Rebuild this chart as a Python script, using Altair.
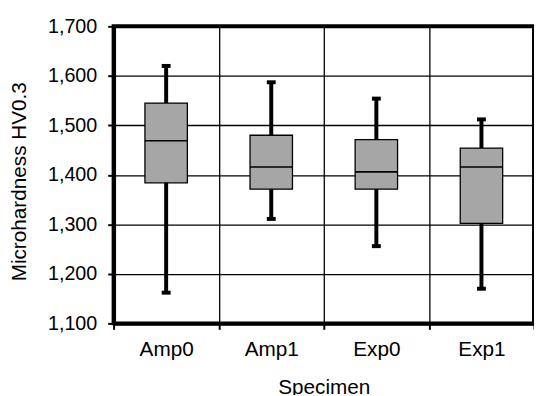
import altair as alt
import pandas as pd

categories = ["Amp0", "Amp1", "Exp0", "Exp1"]
whisker_low = [1162, 1311, 1256, 1170]
q1 = [1384, 1371, 1371, 1302]
median = [1469, 1416, 1406, 1416]
q3 = [1545, 1480, 1471, 1454]
whisker_high = [1620, 1587, 1554, 1512]
y_ticks = [1100, 1200, 1300, 1400, 1500, 1600, 1700]

df = pd.DataFrame({
    "Specimen": categories,
    "low": whisker_low,
    "q1": q1,
    "median": median,
    "q3": q3,
    "high": whisker_high,
})

FONT = "Liberation Sans"

x_enc = alt.X(
    "Specimen:N",
    sort=categories,
    scale=alt.Scale(paddingInner=0, paddingOuter=0),
    axis=alt.Axis(
        title="Specimen",
        tickBand="extent",
        labelAngle=0,
        grid=True,
        gridColor="black",
        gridWidth=1.3,
        gridOpacity=1,
        domainColor="black",
        domainWidth=4,
        tickColor="black",
        tickWidth=2,
        tickSize=6,
        labelPadding=10,
        labelFont=FONT,
        labelFontSize=21,
        labelColor="black",
        titleFont=FONT,
        titleFontSize=21,
        titleFontWeight="normal",
        titleColor="black",
        titlePadding=17,
    ),
)

y_scale = alt.Scale(domain=[1100, 1700], nice=False, zero=False)
y_axis = alt.Axis(
    title="Microhardness HV0.3",
    values=y_ticks,
    format=",.0f",
    grid=True,
    gridColor="black",
    gridWidth=1.3,
    gridOpacity=1,
    domainColor="black",
    domainWidth=4,
    tickColor="black",
    tickWidth=2,
    tickSize=6,
    labelPadding=11,
    labelFont=FONT,
    labelFontSize=20,
    labelColor="black",
    titleFont=FONT,
    titleFontSize=21,
    titleFontWeight="normal",
    titleColor="black",
    titlePadding=18,
    titleY=157,
)

base = alt.Chart(df)

whisker = base.mark_rule(color="black", strokeWidth=4).encode(
    x=x_enc,
    y=alt.Y("low:Q", scale=y_scale, axis=y_axis),
    y2="high:Q",
)

box = base.mark_bar(size=43, color="#a6a6a6", stroke="black", strokeWidth=1.3).encode(
    x=alt.X("Specimen:N", sort=categories),
    y=alt.Y("q1:Q"),
    y2="q3:Q",
)

med = base.mark_tick(size=43, thickness=1.6, color="black", opacity=1).encode(
    x=alt.X("Specimen:N", sort=categories),
    y=alt.Y("median:Q"),
)

cap_hi = base.mark_tick(size=9, thickness=4, color="black", opacity=1).encode(
    x=alt.X("Specimen:N", sort=categories),
    y=alt.Y("high:Q"),
)

cap_lo = base.mark_tick(size=9, thickness=4, color="black", opacity=1).encode(
    x=alt.X("Specimen:N", sort=categories),
    y=alt.Y("low:Q"),
)

chart = alt.layer(whisker, box, med, cap_hi, cap_lo).properties(
    width=426,
    height=301,
    autosize=alt.AutoSizeParams(type="none"),
    padding={"left": 107, "top": 16, "right": 0, "bottom": 70},
    background="white",
).configure_view(
    stroke="black",
    strokeWidth=4,
)

chart.save("out.html", embed_options={"renderer": "svg", "actions": False})
